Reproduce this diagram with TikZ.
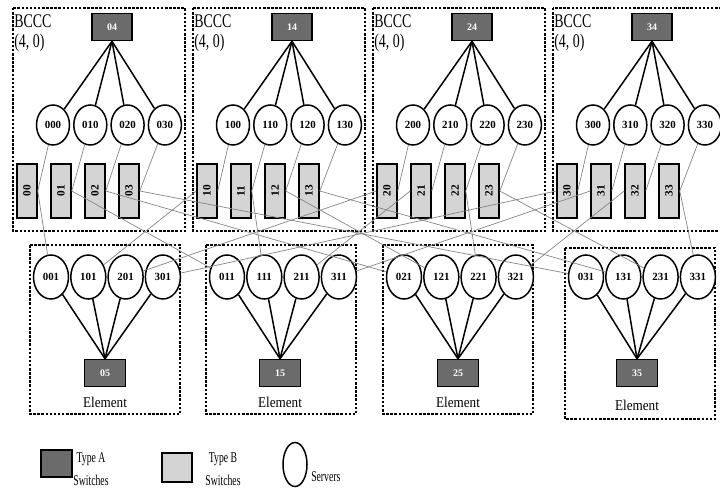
\documentclass[tikz,border=0pt]{standalone}
\usepackage{fontspec}
\setmainfont{Liberation Serif}
\usepackage{graphicx}
\usetikzlibrary{shapes.geometric}

\newlength{\du}
\setlength{\du}{0.75pt}
\newcommand{\hsqueeze}[2]{\scalebox{#1}[1]{#2}}

\definecolor{typeacolor}{rgb}{0.420000, 0.420000, 0.420000}
\definecolor{typebcolor}{rgb}{0.830000, 0.830000, 0.830000}
\definecolor{wirecolor}{rgb}{0.520000, 0.520000, 0.520000}

\tikzset{
  typea/.style={draw=black, fill=typeacolor, line width=1.5\du, minimum width=40\du,
    minimum height=27\du, inner sep=0pt, text=white, font=\bfseries\fontsize{7.5}{8}\selectfont},
  typeb/.style={draw=black, fill=typebcolor, line width=1.5\du, minimum width=20\du,
    minimum height=54\du, inner sep=0pt, font=\bfseries\fontsize{8.5}{9}\selectfont},
  server/.style={ellipse, draw=black, fill=white, line width=1.5\du, minimum width=33\du,
    minimum height=40\du, inner sep=0pt, font=\bfseries\fontsize{8.2}{9}\selectfont},
  groupbox/.style={draw=black, line width=1.5\du, dash pattern=on 2.5\du off 1.6\du},
  grouplabel/.style={inner sep=0pt, font=\fontsize{14.5}{15}\selectfont},
  elemlabel/.style={inner sep=0pt, font=\fontsize{11.2}{12}\selectfont},
  legendtext/.style={inner sep=0pt, font=\fontsize{11.2}{12}\selectfont},
  uplink/.style={draw=black, line width=1.5\du},
  crosslink/.style={draw=wirecolor, line width=0.7\du}
}

\begin{document}
\begin{tikzpicture}
\pgftransformxscale{1.000000}
\pgftransformyscale{-1.000000}
\clip (0\du,0\du) rectangle (720\du,488\du);

% BCCC(4,0) groups
\foreach \i in {0,...,3}{
  \pgfmathsetmacro{\gl}{13+180*\i}
  \pgfmathsetmacro{\gr}{\i==3 ? 730 : 185+180*\i}
  \pgfmathsetmacro{\lx}{14+180*\i}
  \pgfmathsetmacro{\ax}{112+180*\i}
  \draw[groupbox] (\gl\du,8\du) rectangle (\gr\du,231\du);
  \node[grouplabel, anchor=base west] (G\i) at (\lx\du,28\du) {\hsqueeze{0.72}{BCCC}};
  \node[grouplabel, anchor=base west] (P\i) at (\lx\du,48\du) {\hsqueeze{0.72}{(4, 0)}};
  \node[typea] (A\i4) at (\ax\du,27\du) {\i4};
  \foreach \j in {0,...,3}{
    \pgfmathsetmacro{\sx}{53+37.3*\j+180*\i}
    \pgfmathsetmacro{\bx}{27+34*\j+180*\i}
    \node[server] (S\i\j0) at (\sx\du,125\du) {\i\j0};
    \node[typeb] (B\i\j) at (\bx\du,191\du) {\rotatebox{90}{\i\j}};
    \draw[uplink] (S\i\j0) -- (A\i4.south);
  }
}

% elements
\foreach \j/\el/\er/\et/\eb/\ec/\ey in {0/30/180/245/414/105/407, 1/206/356/245/414/280/407,
    2/383/533/245/414/458/407, 3/565/715/248/419/637/410}{
  \draw[groupbox] (\el\du,\et\du) rectangle (\er\du,\eb\du);
  \node[typea, minimum width=41\du] (A\j5) at (\ec\du,373\du) {\j5};
  \node[elemlabel, anchor=base] (E\j) at (\ec\du,\ey\du) {\hsqueeze{0.88}{Element}};
  \foreach \i in {0,...,3}{
    \pgfmathsetmacro{\sx}{\el+21+37.3*\i}
    \node[server, minimum width=35\du, minimum height=44\du] (S\i\j1) at (\sx\du,277\du) {\i\j1};
    \draw[uplink] (S\i\j1) -- (A\j5.north);
  }
}

% type B switch links
\foreach \i in {0,...,3}{
  \foreach \j in {0,...,3}{
    \draw[crosslink] (S\i\j0) -- (B\i\j.east);
    \ifnum\j<\i
      \draw[crosslink] (B\i\j.west) -- (S\i\j1);
    \else
      \draw[crosslink] (B\i\j.east) -- (S\i\j1);
    \fi
  }
}

% legend
\node[typea, minimum width=31\du, minimum height=27\du] (KA) at (56.5\du,463.5\du) {};
\node[legendtext, anchor=base] (KAt) at (91\du,462\du) {\hsqueeze{0.65}{Type A}};
\node[legendtext, anchor=base] (KAs) at (91\du,485\du) {\hsqueeze{0.65}{Switches}};
\node[typeb, minimum width=30\du, minimum height=29\du] (KB) at (177\du,467.5\du) {};
\node[legendtext, anchor=base] (KBt) at (223\du,462\du) {\hsqueeze{0.65}{Type B}};
\node[legendtext, anchor=base] (KBs) at (223\du,485\du) {\hsqueeze{0.65}{Switches}};
\node[server, minimum width=24\du, minimum height=44\du] (KS) at (295\du,464.5\du) {};
\node[legendtext, anchor=base west] (KSt) at (311\du,481\du) {\hsqueeze{0.65}{Servers}};
\end{tikzpicture}
\end{document}
